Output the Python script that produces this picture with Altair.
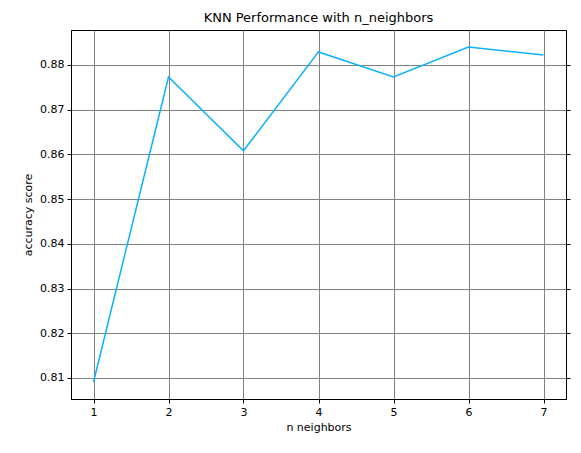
import altair as alt
import pandas as pd

n_neighbors = [1, 2, 3, 4, 5, 6, 7]
accuracy = [0.8091, 0.8773, 0.8608, 0.8829, 0.8773, 0.8840, 0.8822]

df = pd.DataFrame({"n": n_neighbors, "acc": accuracy})

font = "DejaVu Sans"
xs = alt.Scale(domain=[0.7, 7.3], nice=False, zero=False)
ys = alt.Scale(domain=[0.8053, 0.8878], nice=False, zero=False)
yticks = [0.81, 0.82, 0.83, 0.84, 0.85, 0.86, 0.87, 0.88]

x_axis = alt.Axis(values=n_neighbors, format="d", grid=True, gridColor="gray",
                  gridOpacity=1, tickColor="black", domainColor="black",
                  labelColor="black", titleColor="black", labelFontSize=11,
                  titleFontSize=11, titleFontWeight="normal", labelFont=font,
                  titleFont=font, tickSize=4, labelPadding=3, titlePadding=4)

base = alt.Chart(df)

line = base.mark_line(color="#0DB1FF", strokeWidth=1.5).encode(
    x=alt.X("n:Q", scale=xs, title="n neighbors", axis=x_axis),
    y=alt.Y("acc:Q", scale=ys, title="accuracy score",
            axis=alt.Axis(values=yticks, format=".2f", grid=True, gridColor="gray",
                          gridOpacity=1, tickColor="black", domainColor="black",
                          labelColor="black", titleColor="black", labelFontSize=11,
                          titleFontSize=11, titleFontWeight="normal", labelFont=font,
                          titleFont=font, tickSize=4, labelPadding=3, titlePadding=6)),
)

right = base.mark_line(opacity=0).encode(
    x=alt.X("n:Q", scale=xs, title="n neighbors", axis=x_axis),
    y=alt.Y("acc:Q", scale=ys,
            axis=alt.Axis(orient="right", values=yticks, labels=False, title=None,
                          grid=False, tickColor="black", domainColor="black", tickSize=4)),
)

chart = alt.layer(line, right).resolve_axis(y="independent").properties(
    width=495, height=369,
    autosize=alt.AutoSizeParams(type="none"),
    padding={"left": 63, "top": 22, "right": 7, "bottom": 46},
    title=alt.Title("KNN Performance with n_neighbors", font=font, fontSize=13,
                    fontWeight="normal", color="black", offset=5),
).configure_view(stroke="black", strokeWidth=1)

chart.save("out.html", embed_options={"renderer": "svg", "actions": False})
